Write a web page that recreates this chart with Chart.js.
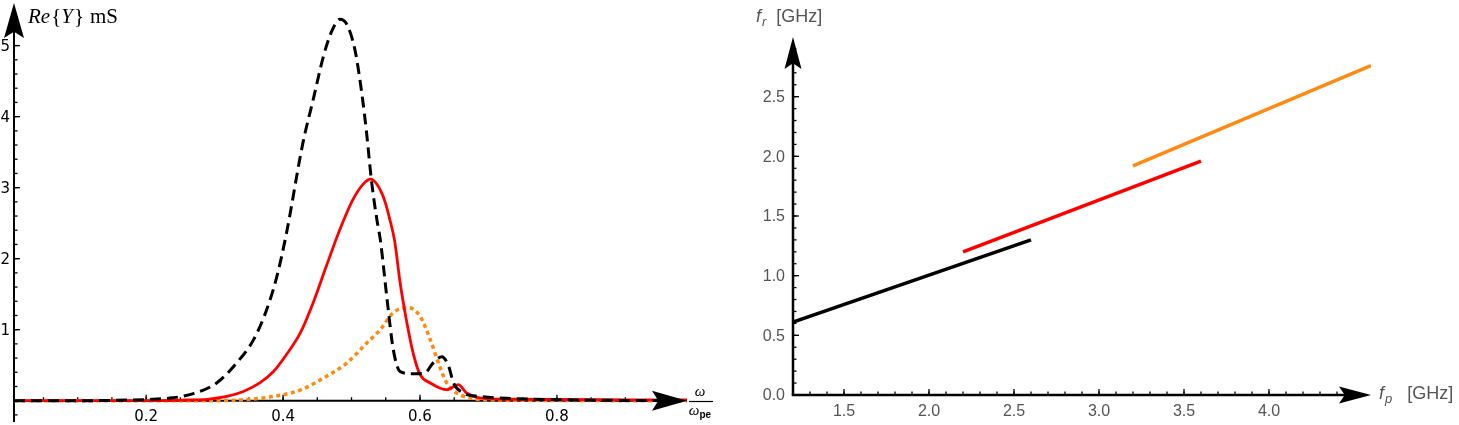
<!DOCTYPE html>
<html>
<head>
<meta charset="utf-8">
<script src="https://cdn.jsdelivr.net/npm/chart.js@4.4.0/dist/chart.umd.min.js"></script>
<style>
  html, body { margin: 0; padding: 0; background: #fff; }
  #wrap { position: relative; width: 1459px; height: 425px; overflow: hidden; }
  canvas { position: absolute; top: 0; }
</style>
</head>
<body>
<div id="wrap">
  <canvas id="cLeft" width="730" height="425" style="left:0"></canvas>
  <canvas id="cRight" width="729" height="425" style="left:730px"></canvas>
</div>
<script>
// ===== LEFT PANEL: Re{Y} (mS) vs omega / omega_pe =====
const blackW  = [0.007, 0.103, 0.180, 0.209, 0.239, 0.269, 0.303, 0.332, 0.357, 0.376, 0.391, 0.405, 0.429, 0.444, 0.459, 0.471, 0.483, 0.493, 0.505, 0.515, 0.522, 0.529, 0.537, 0.542, 0.552, 0.561, 0.571, 0.590, 0.607, 0.619, 0.632, 0.642, 0.649, 0.663, 0.687, 0.736, 0.830, 0.99];
const blackRe = [0, 0, 0.01, 0.02, 0.04, 0.10, 0.25, 0.53, 0.86, 1.28, 1.75, 2.36, 3.63, 4.24, 4.85, 5.20, 5.37, 5.30, 4.94, 4.33, 3.77, 3.11, 2.55, 2.27, 1.42, 0.72, 0.41, 0.38, 0.39, 0.53, 0.62, 0.48, 0.25, 0.11, 0.06, 0.03, 0.01, 0];

const redW  = [0.007, 0.200, 0.258, 0.289, 0.318, 0.342, 0.366, 0.386, 0.405, 0.425, 0.444, 0.463, 0.483, 0.502, 0.517, 0.528, 0.539, 0.549, 0.556, 0.563, 0.571, 0.581, 0.590, 0.600, 0.615, 0.639, 0.656, 0.668, 0.687, 0.733, 0.99];
const redRe = [0, 0, 0.01, 0.02, 0.06, 0.13, 0.25, 0.41, 0.65, 0.95, 1.38, 1.89, 2.41, 2.83, 3.05, 3.12, 3.02, 2.80, 2.55, 2.25, 1.66, 1.09, 0.67, 0.37, 0.25, 0.155, 0.225, 0.11, 0.04, 0.02, 0.01];

const orangeW  = [0.007, 0.297, 0.337, 0.386, 0.425, 0.463, 0.493, 0.522, 0.542, 0.561, 0.583, 0.600, 0.615, 0.627, 0.639, 0.653, 0.673, 0.704, 0.99];
const orangeRe = [0, 0, 0.01, 0.06, 0.15, 0.34, 0.53, 0.81, 1.0, 1.24, 1.31, 1.19, 0.86, 0.53, 0.25, 0.11, 0.04, 0.01, 0];

const leftXLabels = [0.2, 0.4, 0.6, 0.8];
const leftYLabels = [1, 2, 3, 4, 5];

// ===== RIGHT PANEL: f_r vs f_p (GHz) =====
const blackFp = [1.2, 2.6],  blackFr = [0.61, 1.30];
const redFp   = [2.2, 3.6],  redFr   = [1.20, 1.96];
const orangeFp = [3.2, 4.6], orangeFr = [1.92, 2.76];

const rightXLabels = [1.5, 2.0, 2.5, 3.0, 3.5, 4.0];
const rightYLabels = [0.0, 0.5, 1.0, 1.5, 2.0, 2.5];

const ORANGE = '#FF8A12';

const pts = (xs, ys) => xs.map((x, i) => ({ x, y: ys[i] }));

function range(from, to, step) {
    const out = [];
    const n = Math.round((to - from) / step);
    for (let i = 0; i <= n; i++) out.push(+(from + i * step).toFixed(4));
    return out;
}

function arrow(ctx, tx, ty, dx, dy, len, half) {
    const bx = tx - dx * len, by = ty - dy * len;
    const nx = -dy, ny = dx;
    ctx.beginPath();
    ctx.moveTo(tx, ty);
    ctx.lineTo(bx + nx * half, by + ny * half);
    ctx.lineTo(tx - dx * len * 0.82, ty - dy * len * 0.82);
    ctx.lineTo(bx - nx * half, by - ny * half);
    ctx.closePath();
    ctx.fill();
}

// text made of runs with different fonts (italic symbols, subscripts)
function drawRuns(ctx, x, y, runs, color, align) {
    ctx.fillStyle = color;
    ctx.textBaseline = 'alphabetic';
    ctx.textAlign = 'left';
    let w = 0;
    runs.forEach(r => { ctx.font = r.font; w += ctx.measureText(r.t).width + (r.gap || 0); });
    let cx = align === 'center' ? x - w / 2 : x;
    runs.forEach(r => {
        ctx.font = r.font;
        ctx.fillText(r.t, cx, y + (r.dy || 0));
        cx += ctx.measureText(r.t).width + (r.gap || 0);
    });
    return w;
}

// Mathematica-like axes: lines through the origin, inward ticks, arrowheads
const mathAxes = {
    id: 'mathAxes',
    beforeDatasetsDraw(chart, args, o) {
        const { ctx } = chart;
        const xs = chart.scales.x, ys = chart.scales.y;
        const px = v => xs.getPixelForValue(v), py = v => ys.getPixelForValue(v);
        const ox = px(o.origin[0]), oy = py(o.origin[1]);
        const seg = (x1, y1, x2, y2) => { ctx.beginPath(); ctx.moveTo(x1, y1); ctx.lineTo(x2, y2); ctx.stroke(); };
        ctx.save();
        ctx.strokeStyle = '#000';
        ctx.lineWidth = o.tickWidth;
        o.xMinor.forEach(v => seg(px(v), oy, px(v), oy - o.minorLen));
        o.xMajor.forEach(v => seg(px(v), oy, px(v), oy - o.majorLen));
        o.yMinor.forEach(v => seg(ox, py(v), ox + o.minorLen, py(v)));
        o.yMajor.forEach(v => seg(ox, py(v), ox + o.majorLen, py(v)));

        ctx.lineWidth = o.axisWidth;
        seg(ox - o.axisWidth / 2, oy, xs.right - o.arrowLen * 0.5, oy);
        seg(ox, ys.bottom, ox, ys.top + o.arrowLen * 0.5);

        // tick labels
        ctx.font = o.tickFont;
        ctx.fillStyle = o.tickColor;
        ctx.textAlign = 'center';
        ctx.textBaseline = 'middle';
        o.xLabels.forEach(v => ctx.fillText(o.fmt(v), px(v), oy + o.xLabelDy));
        ctx.textAlign = 'right';
        o.yLabels.forEach(v => ctx.fillText(o.fmt(v), ox - o.yLabelDx, py(v) + 1));
        ctx.restore();
    },
    afterDatasetsDraw(chart, args, o) {
        const { ctx } = chart;
        const xs = chart.scales.x, ys = chart.scales.y;
        const ox = xs.getPixelForValue(o.origin[0]), oy = ys.getPixelForValue(o.origin[1]);
        ctx.save();
        ctx.fillStyle = '#000';
        arrow(ctx, xs.right, oy, 1, 0, o.arrowLen, o.arrowHalf);
        arrow(ctx, ox, ys.top, 0, -1, o.arrowLen, o.arrowHalf);
        (o.texts || []).forEach(t => {
            drawRuns(ctx, t.x, t.y, t.runs, t.color, t.align);
            if (t.bar) {
                ctx.strokeStyle = t.color;
                ctx.lineWidth = 1.2;
                ctx.beginPath(); ctx.moveTo(t.bar[0], t.bar[2]); ctx.lineTo(t.bar[1], t.bar[2]); ctx.stroke();
            }
        });
        ctx.restore();
    }
};

function hiddenScales(xmin, xmax, ymin, ymax) {
    return {
        x: { type: 'linear', display: false, min: xmin, max: xmax },
        y: { type: 'linear', display: false, min: ymin, max: ymax }
    };
}

const SERIF = '"Liberation Serif", "Times New Roman", serif';
const SANS = '"Liberation Sans", Arial, sans-serif';

// ----- left chart -----
new Chart(document.getElementById('cLeft'), {
    type: 'line',
    data: {
        datasets: [
            { data: pts(blackW, blackRe), borderColor: '#000', borderWidth: 3, borderDash: [11, 6] },
            { data: pts(redW, redRe), borderColor: '#FF0000', borderWidth: 2.8 },
            { data: pts(orangeW, orangeRe), borderColor: ORANGE, borderWidth: 3.5, borderDash: [4, 3.5] }
        ].map(d => ({ ...d, pointRadius: 0, fill: false, cubicInterpolationMode: 'monotone', borderCapStyle: 'butt' }))
    },
    options: {
        responsive: false,
        devicePixelRatio: 1,
        animation: false,
        events: [],
        layout: { padding: { left: 14, right: 43, top: 3, bottom: 3 } },
        scales: hiddenScales(0.007, 0.99, -0.3, 5.6),
        plugins: {
            legend: { display: false },
            tooltip: { enabled: false },
            mathAxes: {
                origin: [0.007, 0],
                xMajor: leftXLabels, xMinor: range(0.05, 0.95, 0.05),
                yMajor: leftYLabels, yMinor: range(-0.2, 5.4, 0.2),
                xLabels: leftXLabels, yLabels: leftYLabels,
                fmt: v => Number.isInteger(v) ? String(v) : v.toFixed(1),
                tickFont: '15px "DejaVu Sans", sans-serif', tickColor: '#000',
                xLabelDy: 16, yLabelDx: 4,
                majorLen: 6, minorLen: 3.5, tickWidth: 1.3, axisWidth: 2,
                arrowLen: 35, arrowHalf: 10,
                texts: [
                    { x: 28, y: 23, color: '#000', runs: [
                        { t: 'Re', font: 'italic 21px ' + SERIF, gap: 1 },
                        { t: '{', font: '21px ' + SERIF },
                        { t: 'Y', font: 'italic 21px ' + SERIF, gap: 1 },
                        { t: '}', font: '21px ' + SERIF, gap: 6 },
                        { t: 'mS', font: '21px ' + SERIF }
                    ] },
                    { x: 700, y: 396, color: '#000', align: 'center', bar: [689, 713, 401.5], runs: [
                        { t: 'ω', font: 'italic 15px ' + SERIF }
                    ] },
                    { x: 700, y: 415, color: '#000', align: 'center', runs: [
                        { t: 'ω', font: 'italic 15px ' + SERIF },
                        { t: 'pe', font: 'bold 10px ' + SANS, dy: 3 }
                    ] }
                ]
            }
        }
    },
    plugins: [mathAxes]
});

// ----- right chart -----
new Chart(document.getElementById('cRight'), {
    type: 'line',
    data: {
        datasets: [
            { data: pts(blackFp, blackFr), borderColor: '#000' },
            { data: pts(redFp, redFr), borderColor: '#FF0000' },
            { data: pts(orangeFp, orangeFr), borderColor: ORANGE }
        ].map(d => ({ ...d, borderWidth: 3.5, pointRadius: 0, fill: false, tension: 0, borderCapStyle: 'butt' }))
    },
    options: {
        responsive: false,
        devicePixelRatio: 1,
        animation: false,
        events: [],
        layout: { padding: { left: 63, right: 88, top: 37, bottom: 30 } },
        scales: hiddenScales(1.2, 4.6, 0, 3.0),
        plugins: {
            legend: { display: false },
            tooltip: { enabled: false },
            mathAxes: {
                origin: [1.2, 0],
                xMajor: rightXLabels, xMinor: range(1.3, 4.5, 0.1),
                yMajor: rightYLabels, yMinor: range(0.1, 2.9, 0.1),
                xLabels: rightXLabels, yLabels: rightYLabels,
                fmt: v => v.toFixed(1),
                tickFont: '16px ' + SANS, tickColor: '#555',
                xLabelDy: 17, yLabelDx: 8,
                majorLen: 6, minorLen: 3.5, tickWidth: 1.3, axisWidth: 2.5,
                arrowLen: 32, arrowHalf: 8.5,
                texts: [
                    { x: 26, y: 22, color: '#555', runs: [
                        { t: 'f', font: 'italic 18px ' + SANS, gap: 1 },
                        { t: 'r', font: 'italic 13px ' + SANS, dy: 4, gap: 10 },
                        { t: '[GHz]', font: '18px ' + SANS }
                    ] },
                    { x: 649, y: 399, color: '#555', runs: [
                        { t: 'f', font: 'italic 18px ' + SANS, gap: 1 },
                        { t: 'p', font: 'italic 13px ' + SANS, dy: 4, gap: 15 },
                        { t: '[GHz]', font: '18px ' + SANS }
                    ] }
                ]
            }
        }
    },
    plugins: [mathAxes]
});
</script>
</body>
</html>
